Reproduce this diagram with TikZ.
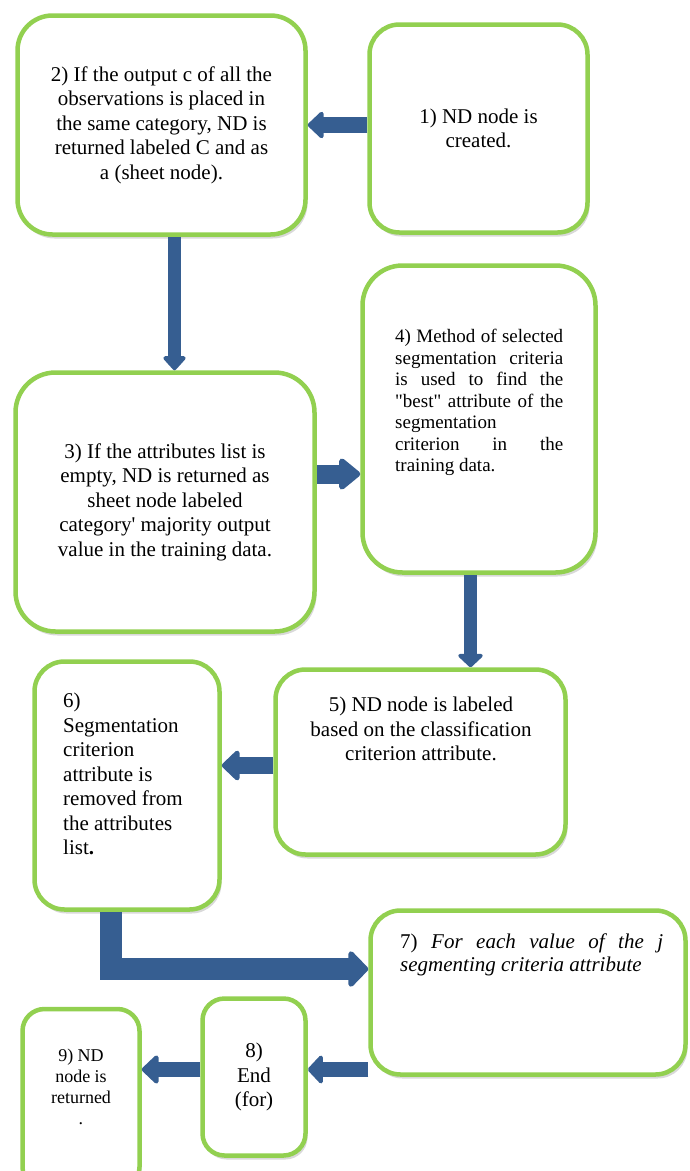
\documentclass[tikz,border=0pt]{standalone}
\usepackage{fontspec}
\setmainfont{Liberation Serif}[Ligatures=TeXOff]
\usetikzlibrary{shapes,arrows.meta,positioning,shadows}
\definecolor{boxgreen}{RGB}{146,208,80}
\definecolor{arrowblue}{RGB}{54,94,145}

\begin{document}
\begin{tikzpicture}[x=1pt,y=-1pt,
    stepbox/.style={draw=boxgreen, line width=4.5pt, fill=white, rounded corners=#1,
        drop shadow={shadow xshift=2pt,shadow yshift=-4pt,opacity=0.3},
        inner sep=0pt, align=center, font=\fontsize{21}{24.5}\selectfont},
    stepbox/.default=30pt,
    steptext/.style={inner sep=0pt, font=\fontsize{21}{24.5}\selectfont},
    flowarrow/.style n args={3}{draw=arrowblue, line width=#1,
        -{Triangle[length=#2,width=#3,round]}}
    ]
    \useasboundingbox (0,0) rectangle (689,1171);
    % Draw the boxes
    \node[stepbox=35pt, minimum width=288pt, minimum height=219pt] (observ) at (161.5,125) {2) If the output c of all the\\ observations is placed in\\ the same category, ND is\\ returned labeled C and as\\ a (sheet node).};
    \node[stepbox, minimum width=218pt, minimum height=208pt] (created) at (478.5,128.5) {1) ND node is\\ created.};
    \node[stepbox=40pt, minimum width=299pt, minimum height=259pt] (empty) at (165,502) {3) If the attributes list is\\ empty, ND is returned as\\ sheet node labeled\\ category' majority output\\ value in the training data.};
    \node[stepbox=40pt, minimum width=233pt, minimum height=307pt] (method) at (479,419) {};
    \node[stepbox, minimum width=290pt, minimum height=185pt] (labeled) at (420.5,762) {};
    \node[stepbox, minimum width=185pt, minimum height=248pt] (removed) at (127,785.5) {};
    \node[stepbox, minimum width=315pt, minimum height=164pt] (foreach) at (528,992.5) {};
    \node[stepbox=22pt, minimum width=103pt, minimum height=157pt] (endfor) at (254,1077) {8)\\ End\\ (for)};
    \node[stepbox=22pt, minimum width=117pt, minimum height=180pt] (returned) at (81,1099) {};
    % Draw the texts that are not centred
    \node[steptext, anchor=north west, text width=168pt, align=justify, font=\fontsize{19}{21.5}\selectfont] (methodtext) at (395,329) {4) Method of selected\linebreak segmentation criteria\linebreak is used to find the\linebreak "best" attribute of the\linebreak segmentation\\ criterion in the\linebreak training data.};
    \node[steptext, anchor=north, align=center] (labeledtext) at (421,697) {5) ND node is labeled\\ based on the classification\\ criterion attribute.};
    \node[steptext, anchor=north west, align=left] (removedtext) at (63,693) {6)\\ Segmentation\\ criterion\\ attribute is\\ removed from\\ the attributes\\ list\textbf{.}};
    \node[steptext, anchor=north west, text width=263pt, align=justify, font=\fontsize{21}{23}\selectfont] (foreachtext) at (400,934) {7) \textit{For each value of the j}\linebreak \textit{segmenting criteria attribute}};
    \node[steptext, anchor=north, align=center, font=\fontsize{18}{21}\selectfont] (returnedtext) at (81,1049) {9) ND\\ node is\\ returned\\ .};
    % Draw the arrows
    \draw[flowarrow={16pt}{17pt}{31pt}] (observ.east -| created.west) -- (observ.east);
    \draw[flowarrow={13pt}{15pt}{26pt}] ([xshift=13pt]observ.south) -- ([xshift=13pt]observ.south |- empty.north);
    \draw[flowarrow={19pt}{23pt}{36pt}] ([yshift=28pt]empty.east) -- ([yshift=28pt]empty.east -| method.west);
    \draw[flowarrow={13pt}{14pt}{29pt}] ([xshift=-8.5pt]method.south) -- ([xshift=-8.5pt]method.south |- labeled.north);
    \draw[flowarrow={17pt}{19pt}{35pt}] ([yshift=-3.5pt]labeled.west) -- ([yshift=-3.5pt]labeled.west -| removed.east);
    \draw[flowarrow={22pt}{21pt}{42pt}, line join=miter] ([xshift=-16.5pt]removed.south) |- ([yshift=23.5pt]foreach.west);
    \draw[flowarrow={15pt}{16pt}{33pt}] ([yshift=7.5pt]endfor.east -| foreach.west) -- ([yshift=7.5pt]endfor.east);
    \draw[flowarrow={15pt}{18pt}{33pt}] ([yshift=7.5pt]endfor.west) -- ([yshift=7.5pt]endfor.west -| returned.east);
\end{tikzpicture}
\end{document}
